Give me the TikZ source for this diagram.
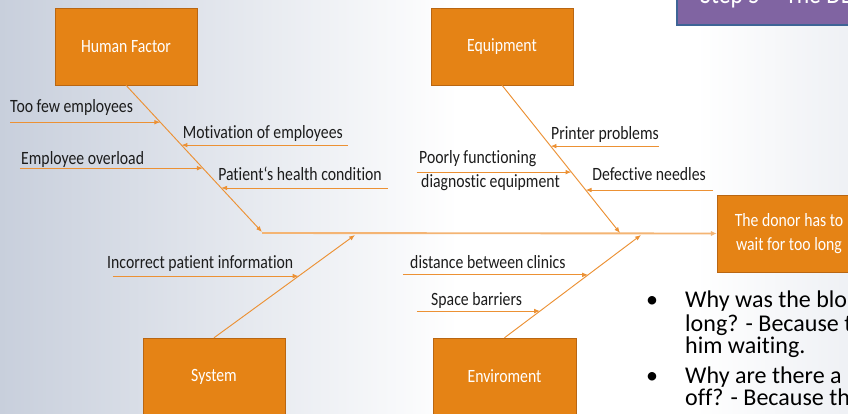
\documentclass[tikz,border=0pt]{standalone}
\usepackage{fontspec}
\setmainfont{Carlito}[Ligatures=NoCommon]
\newfontfamily\slidefont[FakeStretch=0.84, Ligatures=NoCommon]{Carlito}
\usetikzlibrary{%
        arrows.meta,
        calc
    }

\definecolor{slidegray}{RGB}{200,207,220}
\definecolor{boxorange}{RGB}{229,131,21}
\definecolor{boxedge}{RGB}{185,102,18}
\definecolor{boneline}{RGB}{236,145,52}
\definecolor{spineline}{RGB}{244,180,115}
\definecolor{titlepurple}{RGB}{128,100,162}
\definecolor{titleedge}{RGB}{62,100,150}
\definecolor{labeltext}{RGB}{28,28,28}

\pgfdeclarehorizontalshading{slidebg}{100bp}{%
    color(0bp)=(slidegray); color(25bp)=(slidegray);
    color(52bp)=(white); color(66bp)=(white);
    color(75bp)=(slidegray!30!white); color(100bp)=(slidegray!30!white)}

\tikzset{%
    category/.style={%
        draw=boxedge, fill=boxorange, text=white,
        minimum width=4.26cm, minimum height=2.31cm, inner sep=0pt,
        align=center, font=\slidefont\fontsize{16}{21}\selectfont
    },
    cause/.style={%
        inner sep=0pt, text=labeltext,
        font=\slidefont\fontsize{16}{19}\selectfont
    },
    bullettext/.style={%
        anchor=base west, inner sep=0pt, text=black,
        font=\fontsize{20.5}{20.5}\selectfont
    },
    bone/.style={%
        draw=boneline, line width=0.8pt,
        -{Latex[length=5pt, width=4pt]}
    },
    spine/.style={%
        draw=spineline, line width=1.6pt,
        -{Latex[length=5pt, width=4.5pt]}
    }
}

\begin{document}
\begin{tikzpicture}[x=0.03cm, y=-0.03cm]

    % Slide background
    \shade[shading=slidebg] (0, 0) rectangle (848, 413);
    \useasboundingbox (0, 0) rectangle (848, 413);

    % Title bar
    \filldraw[fill=titlepurple, draw=titleedge, line width=1.6pt]
        (677, -60) rectangle (900, 25);
    \node[anchor=base west, inner sep=0pt, text=white,
        font=\slidefont\fontsize{24}{24}\selectfont] (title) at (700, 3)
        {Step 5 -- The DE};

    %%% Categories
    \node[category] (human) at (126, 46.5) {Human Factor};
    \node[category] (equip) at (502, 46.5) {Equipment};
    \node[category] (system) at (214, 376.5) {System};
    \node[category, minimum width=4.29cm] (envir) at (504.5, 376.5) {Enviroment};
    \node[category, minimum width=4.32cm] (donor) at (789, 233.5)
        {The donor has to\\wait for too long};

    % Spine
    \coordinate (tail) at (262, 233);
    \draw[spine] (tail) -- (donor.west);

    % Bones
    \coordinate (human-end) at (262, 232);
    \coordinate (equip-end) at (620, 233);
    \coordinate (system-end) at (355, 235);
    \coordinate (envir-end) at (641, 235);

    \draw[bone] (human.south) -- (human-end);
    \draw[bone] (equip.south) -- (equip-end);
    \draw[bone] (system.north) -- (system-end);
    \draw[bone] (envir.north) -- (envir-end);

    % Points on the bones
    \coordinate (hf-a) at ($(human.south)!0.252!(human-end)$);
    \coordinate (hf-b) at ($(human.south)!0.408!(human-end)$);
    \coordinate (hf-c) at ($(human.south)!0.565!(human-end)$);
    \coordinate (hf-d) at ($(human.south)!0.700!(human-end)$);
    \coordinate (eq-a) at ($(equip.south)!0.412!(equip-end)$);
    \coordinate (eq-b) at ($(equip.south)!0.588!(equip-end)$);
    \coordinate (eq-c) at ($(equip.south)!0.709!(equip-end)$);
    \coordinate (sy-a) at ($(system.north)!0.600!(system-end)$);
    \coordinate (en-a) at ($(envir.north)!0.612!(envir-end)$);
    \coordinate (en-b) at ($(envir.north)!0.260!(envir-end)$);

    %%% Human factor causes
    \node[cause, anchor=base west] (few) at (10, 112) {Too few employees};
    \node[cause, anchor=base east] (motiv) at (343, 138) {Motivation of employees};
    \node[cause, anchor=base west] (overload) at (21, 164) {Employee overload};
    \node[cause, anchor=base east] (health) at (382, 180) {Patient‘s health condition};

    \draw[bone] (few.west |- hf-a) -- (hf-a);
    \draw[bone] ([xshift=4] motiv.east |- hf-b) -- (hf-b);
    \draw[bone] ([xshift=-1] overload.west |- hf-c) -- (hf-c);
    \draw[bone] ([xshift=5] health.east |- hf-d) -- (hf-d);

    %%% Equipment causes
    \node[cause, anchor=base east] (printer) at (659, 139) {Printer problems};
    \node[cause, anchor=base west] (poorly) at (419, 163) {Poorly functioning};
    \node[cause, anchor=base west] (diagnostic) at (421, 187) {diagnostic equipment};
    \node[cause, anchor=base east] (needles) at (706, 180) {Defective needles};

    \draw[bone] (printer.east |- eq-a) -- (eq-a);
    \draw[bone] ([xshift=-2] poorly.west |- eq-b) -- (eq-b);
    \draw[bone] ([xshift=6] needles.east |- eq-c) -- (eq-c);

    %%% System causes
    \node[cause, anchor=base west] (incorrect) at (107, 268) {Incorrect patient information};
    \draw[bone] ([xshift=5] incorrect.west |- sy-a) -- (sy-a);

    %%% Enviroment causes
    \node[cause, anchor=base west] (distance) at (410, 268) {distance between clinics};
    \node[cause, anchor=base west] (space) at (431, 305) {Space barriers};

    \draw[bone] ([xshift=-6] distance.west |- en-a) -- (en-a);
    \draw[bone] ([xshift=-12] space.west |- en-b) -- (en-b);

    %%% Why questions
    \node[bullettext] (dot-a) at (646, 307) {\textbullet};
    \node[bullettext] (why-a1) at (685, 307) {Why was the blo};
    \node[bullettext] (why-a2) at (685, 331) {long? - Because t};
    \node[bullettext] (why-a3) at (685, 353) {him waiting.};
    \node[bullettext] (dot-b) at (646, 383) {\textbullet};
    \node[bullettext] (why-b1) at (685, 383) {Why are there a};
    \node[bullettext] (why-b2) at (685, 405) {off? - Because th};

\end{tikzpicture}
\end{document}
